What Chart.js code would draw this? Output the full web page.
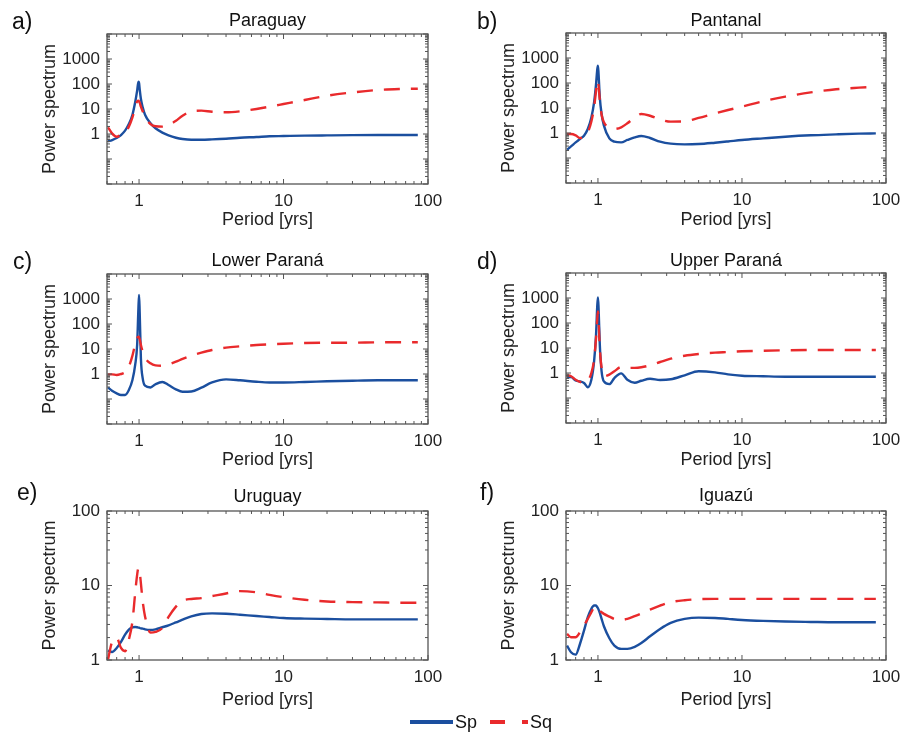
<!DOCTYPE html>
<html>
<head>
<meta charset="utf-8">
<script src="https://cdn.jsdelivr.net/npm/chart.js@4.4.1/dist/chart.umd.min.js"></script>
<style>
body{margin:0;background:#fff;}
#wrap{position:relative;width:900px;height:732px;font-family:"Liberation Sans",Arial,sans-serif;overflow:hidden;}
#wrap canvas{position:absolute;}
#legend{position:absolute;left:410px;top:711px;height:22px;display:flex;align-items:center;font-size:18px;color:#111;line-height:22px;}
</style>
</head>
<body>
<div id="wrap">
<canvas id="cA" width="450" height="240" style="left:0;top:0"></canvas>
<canvas id="cB" width="450" height="240" style="left:450px;top:0"></canvas>
<canvas id="cC" width="450" height="240" style="left:0;top:240px"></canvas>
<canvas id="cD" width="450" height="240" style="left:450px;top:240px"></canvas>
<canvas id="cE" width="450" height="240" style="left:0;top:480px"></canvas>
<canvas id="cF" width="450" height="240" style="left:450px;top:480px"></canvas>
<div id="legend">
  <span style="display:inline-block;width:43px;height:4px;background:#1b4f9f"></span>
  <span style="margin-left:2px">Sp</span>
  <span style="display:inline-block;width:38px;height:4px;margin-left:13px;background:linear-gradient(to right,#e92a2c 0,#e92a2c 15px,transparent 15px,transparent 32px,#e92a2c 32px)"></span>
  <span style="margin-left:2px">Sq</span>
</div>
</div>
<script>
// period grid [yrs]
const period=[0.61,0.65,0.7,0.75,0.8,0.85,0.9,0.94,0.97,0.99,1.0,1.01,1.03,1.06,1.1,1.2,1.3,1.45,1.6,1.8,2.0,2.3,2.7,3.2,4,5,6.5,8,10,14,20,30,45,65,85];

// a) Paraguay
const spA=[0.51,0.575,0.69,0.91,1.36,2.5,5.9,18.5,54,124,110,63,25,11.7,5.9,2.67,1.69,1.13,0.88,0.71,0.63,0.59,0.59,0.61,0.65,0.71,0.76,0.81,0.83,0.86,0.88,0.9,0.91,0.91,0.91];
const sqA=[1.85,1.06,0.78,0.94,1.17,1.97,4.6,11.7,20,21.5,20,18,12.4,8.1,4.9,2.5,2.03,1.97,2.29,3.4,5.4,8.1,8.6,7.8,7.4,8.1,10,12.4,15.8,22.8,34,46,57.5,63,65];
// b) Pantanal
const spB=[0.215,0.29,0.42,0.575,0.78,1.45,4.2,16.9,91,363,495,230,26.7,5.75,1.97,0.61,0.45,0.42,0.525,0.67,0.76,0.63,0.45,0.374,0.352,0.363,0.41,0.46,0.525,0.61,0.71,0.81,0.88,0.94,0.97];
const sqB=[0.91,0.91,0.81,0.63,0.67,1.06,2.9,10.6,49,124,124,78,21,5.4,2.67,1.69,1.45,1.69,2.44,4.2,5.75,4.9,3.5,2.84,2.93,4.0,6.1,8.3,11.3,18.5,28.4,42,56,65,71];
// c) Lower Paraná
const spC=[0.29,0.215,0.169,0.145,0.145,0.23,0.575,2.3,14.5,424,1445,311,4.2,0.67,0.34,0.29,0.39,0.48,0.363,0.244,0.196,0.2,0.284,0.46,0.61,0.56,0.49,0.46,0.46,0.48,0.51,0.54,0.56,0.56,0.56];
const sqC=[0.97,0.97,0.91,1.0,1.17,1.97,5.4,15.4,26.7,31,29,25,14.5,7.8,4.5,2.67,2.22,2.15,2.44,3.1,4.0,5.4,7.1,9.1,11.3,12.8,14.5,15.4,16.3,17.4,17.9,17.9,18.5,18.5,18.5];
// d) Upper Paraná
const spD=[0.67,0.69,0.5,0.46,0.4,0.27,0.54,2.9,34,541,1063,398,13.6,1.17,0.46,0.36,0.63,0.97,0.54,0.41,0.49,0.59,0.525,0.56,0.81,1.17,1.06,0.88,0.78,0.74,0.71,0.71,0.71,0.71,0.71];
const sqD=[0.81,0.74,0.54,0.44,0.4,0.49,1.0,3.4,25,158,293,117,10,1.58,0.74,0.86,1.17,1.74,1.6,1.6,1.69,2.03,2.75,3.74,4.9,5.75,6.5,6.9,7.4,7.8,8.1,8.3,8.3,8.3,8.3];
// e) Uruguay
const spE=[1.34,1.28,1.45,1.75,2.19,2.56,2.75,2.77,2.75,2.72,2.72,2.69,2.66,2.64,2.58,2.53,2.58,2.75,2.92,3.2,3.48,3.85,4.14,4.22,4.18,4.05,3.89,3.78,3.66,3.59,3.55,3.51,3.51,3.51,3.51];
const sqE=[1.02,1.75,1.98,1.45,1.31,1.88,3.3,7.9,13.9,17.1,17.1,15.4,10.7,6.1,3.85,2.33,2.38,2.69,3.78,5.2,6.25,6.6,6.77,7.2,7.82,8.4,8.1,7.5,6.98,6.43,6.1,5.98,5.93,5.87,5.87];
// f) Iguazú
const spF=[1.56,1.27,1.18,1.64,2.48,3.75,4.86,5.38,5.38,5.11,4.96,4.75,4.29,3.56,2.84,1.96,1.56,1.41,1.41,1.5,1.69,2.08,2.61,3.15,3.56,3.71,3.67,3.56,3.45,3.35,3.28,3.24,3.21,3.21,3.21];
const sqF=[2.24,2.02,2.02,2.36,2.9,3.56,4.38,5.11,5.27,5.21,5.11,4.96,4.61,4.38,4.16,3.83,3.56,3.45,3.56,3.87,4.2,4.75,5.38,5.97,6.35,6.55,6.62,6.62,6.62,6.62,6.62,6.62,6.62,6.62,6.62];

const xTicks=[1,10,100];
const yTicksTop=[1,10,100,1000];
const yTicksBottom=[1,10,100];

const BLUE='#1b4f9f', RED='#e92a2c';
const FONT='"Liberation Sans", Arial, sans-serif';

// frame box with inward ticks on all four sides
const framePlugin={
  id:'frame',
  afterDatasetsDraw(chart){
    const {ctx,chartArea:a,scales:{x,y}}=chart;
    ctx.save();
    ctx.strokeStyle='#555';
    ctx.lineWidth=1.3;
    ctx.strokeRect(a.left,a.top,a.right-a.left,a.bottom-a.top);
    ctx.lineWidth=1;
    const marks=(sc,cb)=>{
      for(let d=Math.floor(Math.log10(sc.min));d<=Math.ceil(Math.log10(sc.max));d++){
        for(let m=1;m<10;m++){
          const v=m*Math.pow(10,d);
          if(v<sc.min*0.999||v>sc.max*1.001) continue;
          cb(sc.getPixelForValue(v),m===1?5:3);
        }
      }
    };
    ctx.beginPath();
    marks(x,(p,l)=>{ctx.moveTo(p,a.bottom);ctx.lineTo(p,a.bottom-l);ctx.moveTo(p,a.top);ctx.lineTo(p,a.top+l);});
    marks(y,(p,l)=>{ctx.moveTo(a.left,p);ctx.lineTo(a.left+l,p);ctx.moveTo(a.right,p);ctx.lineTo(a.right-l,p);});
    ctx.stroke();
    ctx.restore();
  },
  afterDraw(chart,args,opts){
    const {ctx,chartArea:a}=chart;
    ctx.save();
    ctx.fillStyle='#111';
    ctx.textBaseline='alphabetic';
    ctx.font='18px '+FONT;
    ctx.textAlign='center';
    ctx.fillText(opts.title,(a.left+a.right)/2,opts.titleY);
    ctx.font='23px '+FONT;
    ctx.textAlign='left';
    ctx.fillText(opts.letter,opts.letterX,opts.letterY);
    ctx.restore();
  }
};

function makePanel(id,cfg){
  const W=450,H=240;
  return new Chart(document.getElementById(id),{
    type:'line',
    data:{
      datasets:[
        {label:'Sq',data:period.map((p,i)=>({x:p,y:cfg.sq[i]})),borderColor:RED,borderWidth:2.4,borderDash:[16,11],pointRadius:0,cubicInterpolationMode:'monotone',fill:false},
        {label:'Sp',data:period.map((p,i)=>({x:p,y:cfg.sp[i]})),borderColor:BLUE,borderWidth:2.4,pointRadius:0,cubicInterpolationMode:'monotone',fill:false}
      ]
    },
    options:{
      responsive:false,
      animation:false,
      events:[],
      layout:{padding:{left:0,top:cfg.T,right:W-cfg.R,bottom:0}},
      plugins:{
        legend:{display:false},
        tooltip:{enabled:false},
        frame:{title:cfg.title,letter:cfg.letter,titleY:cfg.titleY,letterX:cfg.letterX,letterY:cfg.letterY}
      },
      scales:{
        x:{
          type:'logarithmic',min:0.61,max:100,
          grid:{display:false,drawTicks:false},border:{display:false},
          afterBuildTicks:s=>{s.ticks=xTicks.map(v=>({value:v}));},
          afterFit:s=>{s.height=H-cfg.B;s.paddingLeft=0;s.paddingRight=0;},
          ticks:{autoSkip:false,maxRotation:0,padding:7,color:'#222',font:{family:FONT,size:17},callback:v=>String(v)},
          title:{display:true,text:'Period [yrs]',color:'#222',font:{family:FONT,size:18},padding:{top:0,bottom:9}}
        },
        y:{
          type:'logarithmic',min:cfg.ymin,max:cfg.ymax,
          grid:{display:false,drawTicks:false},border:{display:false},
          afterBuildTicks:s=>{s.ticks=cfg.yTicks.map(v=>({value:v}));},
          afterFit:s=>{s.width=cfg.L;s.paddingTop=0;s.paddingBottom=0;},
          ticks:{autoSkip:false,padding:7,color:'#222',font:{family:FONT,size:17},callback:v=>String(v)},
          title:{display:true,text:'Power spectrum',color:'#222',font:{family:FONT,size:18},padding:{top:cfg.L-57-11,bottom:0}}
        }
      }
    },
    plugins:[framePlugin]
  });
}

makePanel('cA',{letter:'a)',title:'Paraguay',sp:spA,sq:sqA,ymin:0.01,ymax:10000,yTicks:yTicksTop,L:107,R:428,T:34,B:184,titleY:26,letterX:12,letterY:29});
makePanel('cB',{letter:'b)',title:'Pantanal',sp:spB,sq:sqB,ymin:0.01,ymax:10000,yTicks:yTicksTop,L:116,R:436,T:33,B:183,titleY:26,letterX:27,letterY:29});
makePanel('cC',{letter:'c)',title:'Lower Paraná',sp:spC,sq:sqC,ymin:0.01,ymax:10000,yTicks:yTicksTop,L:107,R:428,T:34,B:184,titleY:26,letterX:13,letterY:29});
makePanel('cD',{letter:'d)',title:'Upper Paraná',sp:spD,sq:sqD,ymin:0.01,ymax:10000,yTicks:yTicksTop,L:116,R:436,T:33,B:183,titleY:26,letterX:27,letterY:29});
makePanel('cE',{letter:'e)',title:'Uruguay',sp:spE,sq:sqE,ymin:1,ymax:100,yTicks:yTicksBottom,L:107,R:428,T:31,B:180,titleY:22,letterX:17,letterY:20});
makePanel('cF',{letter:'f)',title:'Iguazú',sp:spF,sq:sqF,ymin:1,ymax:100,yTicks:yTicksBottom,L:116,R:436,T:31,B:180,titleY:21,letterX:30,letterY:20});
</script>
</body>
</html>
